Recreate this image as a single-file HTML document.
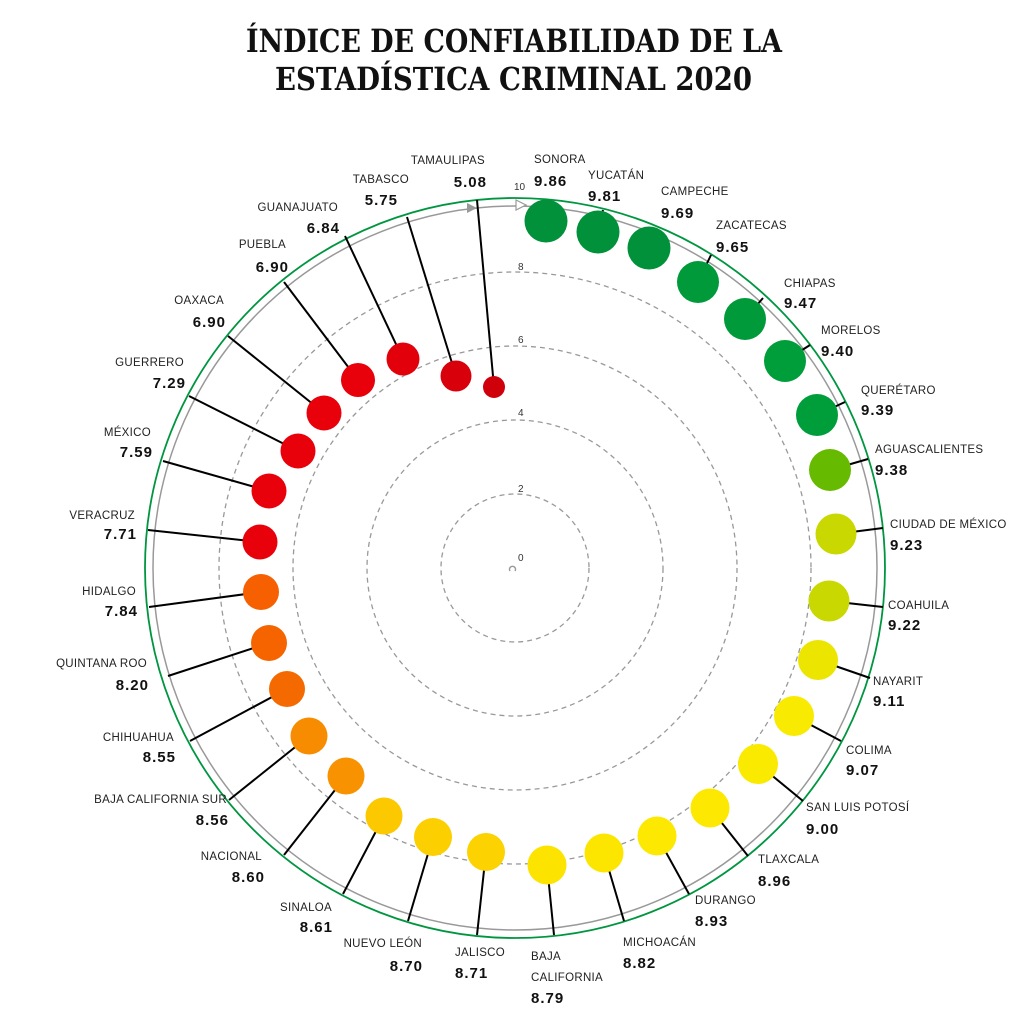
<!DOCTYPE html>
<html><head><meta charset="utf-8"><style>
html,body{margin:0;padding:0;background:#fff;}
svg{display:block;}
.t{font-family:"DejaVu Serif","Liberation Serif",serif;font-weight:bold;font-size:32px;fill:#111;}
.n{font-family:"Liberation Sans",sans-serif;font-size:11.5px;letter-spacing:0.3px;fill:#222;}
.v{font-family:"Liberation Sans Narrow","Liberation Sans",sans-serif;font-weight:bold;font-size:15px;letter-spacing:1px;fill:#111;}
.r{text-anchor:end;}
.k{font-family:"Liberation Sans",sans-serif;font-size:10px;fill:#333;}
.l{stroke:#000;stroke-width:2;}
</style></head><body>
<svg width="1020" height="1030" viewBox="0 0 1020 1030" xmlns="http://www.w3.org/2000/svg">
<text class="t" x="246" y="52" textLength="536" lengthAdjust="spacingAndGlyphs">ÍNDICE DE CONFIABILIDAD DE LA</text>
<text class="t" x="275" y="90" textLength="477" lengthAdjust="spacingAndGlyphs">ESTADÍSTICA CRIMINAL 2020</text>

<g fill="none" stroke="#999" stroke-width="1.3" stroke-dasharray="5,4">
<circle cx="515" cy="568" r="74"/><circle cx="515" cy="568" r="148"/><circle cx="515" cy="568" r="222"/><circle cx="515" cy="568" r="296"/>
</g>
<circle cx="515" cy="568" r="362" fill="none" stroke="#999" stroke-width="1.5"/>
<circle cx="515" cy="568" r="370" fill="none" stroke="#009640" stroke-width="1.8"/>
<polygon points="467,203 477,208 467,213" fill="#999"/>
<polygon points="516,200 526,205 516,210" fill="#fff" stroke="#999" stroke-width="1.2"/>
<path d="M510,571 a3,3 0 1,1 5,0" fill="none" stroke="#999" stroke-width="1.5"/>
<text class="k" x="514" y="190">10</text><text class="k" x="518" y="270">8</text><text class="k" x="518" y="343">6</text><text class="k" x="518" y="416">4</text><text class="k" x="518" y="492">2</text><text class="k" x="518" y="561">0</text>

<g class="l">
<line x1="598" y1="232" x2="603" y2="210"/>
<line x1="649" y1="248" x2="656" y2="228"/>
<line x1="698" y1="282" x2="711" y2="255"/>
<line x1="745" y1="319" x2="763" y2="298"/>
<line x1="785" y1="361" x2="810" y2="345"/>
<line x1="817" y1="415" x2="845" y2="402"/>
<line x1="830" y1="470" x2="868" y2="459"/>
<line x1="836" y1="534" x2="883" y2="528"/>
<line x1="829" y1="601" x2="883" y2="607"/>
<line x1="818" y1="660" x2="870" y2="678"/>
<line x1="794" y1="716" x2="841" y2="741"/>
<line x1="758" y1="764" x2="803" y2="801"/>
<line x1="710" y1="808" x2="748" y2="856"/>
<line x1="657" y1="836" x2="689" y2="894"/>
<line x1="604" y1="853" x2="624" y2="921"/>
<line x1="547" y1="865" x2="554" y2="935"/>
<line x1="486" y1="852" x2="477" y2="935"/>
<line x1="433" y1="837" x2="408" y2="921"/>
<line x1="384" y1="816" x2="343" y2="894"/>
<line x1="346" y1="776" x2="284" y2="855"/>
<line x1="309" y1="736" x2="229" y2="800"/>
<line x1="287" y1="689" x2="190" y2="741"/>
<line x1="269" y1="643" x2="168" y2="676"/>
<line x1="261" y1="592" x2="149" y2="607"/>
<line x1="260" y1="542" x2="148" y2="530"/>
<line x1="269" y1="491" x2="163" y2="461"/>
<line x1="298" y1="451" x2="189" y2="396"/>
<line x1="324" y1="413" x2="228" y2="336"/>
<line x1="358" y1="380" x2="284" y2="282"/>
<line x1="403" y1="359" x2="345" y2="236"/>
<line x1="456" y1="376" x2="407" y2="217"/>
<line x1="494" y1="387" x2="477" y2="200"/>
</g>

<circle cx="546" cy="221" r="21.5" fill="#00913a"/>
<circle cx="598" cy="232" r="21.5" fill="#00913a"/>
<circle cx="649" cy="248" r="21.5" fill="#00913a"/>
<circle cx="698" cy="282" r="21" fill="#009a3a"/>
<circle cx="745" cy="319" r="21" fill="#009a3a"/>
<circle cx="785" cy="361" r="21" fill="#009e3a"/>
<circle cx="817" cy="415" r="21" fill="#009e3a"/>
<circle cx="830" cy="470" r="21" fill="#66bb00"/>
<circle cx="836" cy="534" r="20.5" fill="#c8d800"/>
<circle cx="829" cy="601" r="20.5" fill="#c8d800"/>
<circle cx="818" cy="660" r="20" fill="#ece500"/>
<circle cx="794" cy="716" r="20" fill="#f8ea00"/>
<circle cx="758" cy="764" r="20" fill="#faea00"/>
<circle cx="710" cy="808" r="19.5" fill="#fce800"/>
<circle cx="657" cy="836" r="19.5" fill="#fce800"/>
<circle cx="604" cy="853" r="19.5" fill="#fce600"/>
<circle cx="547" cy="865" r="19.5" fill="#fce400"/>
<circle cx="486" cy="852" r="19" fill="#fcd200"/>
<circle cx="433" cy="837" r="19" fill="#fccf00"/>
<circle cx="384" cy="816" r="18.5" fill="#fcc800"/>
<circle cx="346" cy="776" r="18.5" fill="#f89200"/>
<circle cx="309" cy="736" r="18.5" fill="#f88c00"/>
<circle cx="287" cy="689" r="18" fill="#f56a00"/>
<circle cx="269" cy="643" r="18" fill="#f66400"/>
<circle cx="261" cy="592" r="18" fill="#f66000"/>
<circle cx="260" cy="542" r="17.5" fill="#e8000b"/>
<circle cx="269" cy="491" r="17.5" fill="#e8000b"/>
<circle cx="298" cy="451" r="17.5" fill="#e8000b"/>
<circle cx="324" cy="413" r="17.5" fill="#e8000b"/>
<circle cx="358" cy="380" r="17" fill="#e8000b"/>
<circle cx="403" cy="359" r="16.5" fill="#e2000b"/>
<circle cx="456" cy="376" r="15.5" fill="#d8000b"/>
<circle cx="494" cy="387" r="11" fill="#d0000b"/>

<text class="n" x="534" y="163">SONORA</text><text class="v" x="534" y="186">9.86</text>
<text class="n" x="588" y="179">YUCATÁN</text><text class="v" x="588" y="201">9.81</text>
<text class="n" x="661" y="195">CAMPECHE</text><text class="v" x="661" y="218">9.69</text>
<text class="n" x="716" y="229">ZACATECAS</text><text class="v" x="716" y="252">9.65</text>
<text class="n" x="784" y="287">CHIAPAS</text><text class="v" x="784" y="308">9.47</text>
<text class="n" x="821" y="334">MORELOS</text><text class="v" x="821" y="356">9.40</text>
<text class="n" x="861" y="394">QUERÉTARO</text><text class="v" x="861" y="415">9.39</text>
<text class="n" x="875" y="453">AGUASCALIENTES</text><text class="v" x="875" y="475">9.38</text>
<text class="n" x="890" y="528">CIUDAD DE MÉXICO</text><text class="v" x="890" y="550">9.23</text>
<text class="n" x="888" y="609">COAHUILA</text><text class="v" x="888" y="630">9.22</text>
<text class="n" x="873" y="685">NAYARIT</text><text class="v" x="873" y="706">9.11</text>
<text class="n" x="846" y="754">COLIMA</text><text class="v" x="846" y="775">9.07</text>
<text class="n" x="806" y="811">SAN LUIS POTOSÍ</text><text class="v" x="806" y="834">9.00</text>
<text class="n" x="758" y="863">TLAXCALA</text><text class="v" x="758" y="886">8.96</text>
<text class="n" x="695" y="904">DURANGO</text><text class="v" x="695" y="926">8.93</text>
<text class="n" x="623" y="946">MICHOACÁN</text><text class="v" x="623" y="968">8.82</text>
<text class="n" x="531" y="960">BAJA</text><text class="n" x="531" y="981">CALIFORNIA</text><text class="v" x="531" y="1003">8.79</text>
<text class="n" x="455" y="956">JALISCO</text><text class="v" x="455" y="978">8.71</text>

<text class="n r" x="422" y="947">NUEVO LEÓN</text><text class="v r" x="423" y="971">8.70</text>
<text class="n r" x="332" y="911">SINALOA</text><text class="v r" x="333" y="932">8.61</text>
<text class="n r" x="262" y="860">NACIONAL</text><text class="v r" x="265" y="882">8.60</text>
<text class="n r" x="227" y="803">BAJA CALIFORNIA SUR</text><text class="v r" x="229" y="825">8.56</text>
<text class="n r" x="174" y="741">CHIHUAHUA</text><text class="v r" x="176" y="762">8.55</text>
<text class="n r" x="147" y="667">QUINTANA ROO</text><text class="v r" x="149" y="690">8.20</text>
<text class="n r" x="136" y="595">HIDALGO</text><text class="v r" x="138" y="616">7.84</text>
<text class="n r" x="135" y="519">VERACRUZ</text><text class="v r" x="137" y="539">7.71</text>
<text class="n r" x="151" y="436">MÉXICO</text><text class="v r" x="153" y="457">7.59</text>
<text class="n r" x="184" y="366">GUERRERO</text><text class="v r" x="186" y="388">7.29</text>
<text class="n r" x="224" y="304">OAXACA</text><text class="v r" x="226" y="327">6.90</text>
<text class="n r" x="286" y="248">PUEBLA</text><text class="v r" x="289" y="272">6.90</text>
<text class="n r" x="338" y="211">GUANAJUATO</text><text class="v r" x="340" y="233">6.84</text>
<text class="n r" x="409" y="183">TABASCO</text><text class="v r" x="398" y="205">5.75</text>
<text class="n r" x="485" y="164">TAMAULIPAS</text><text class="v r" x="487" y="187">5.08</text>
</svg>
</body></html>
